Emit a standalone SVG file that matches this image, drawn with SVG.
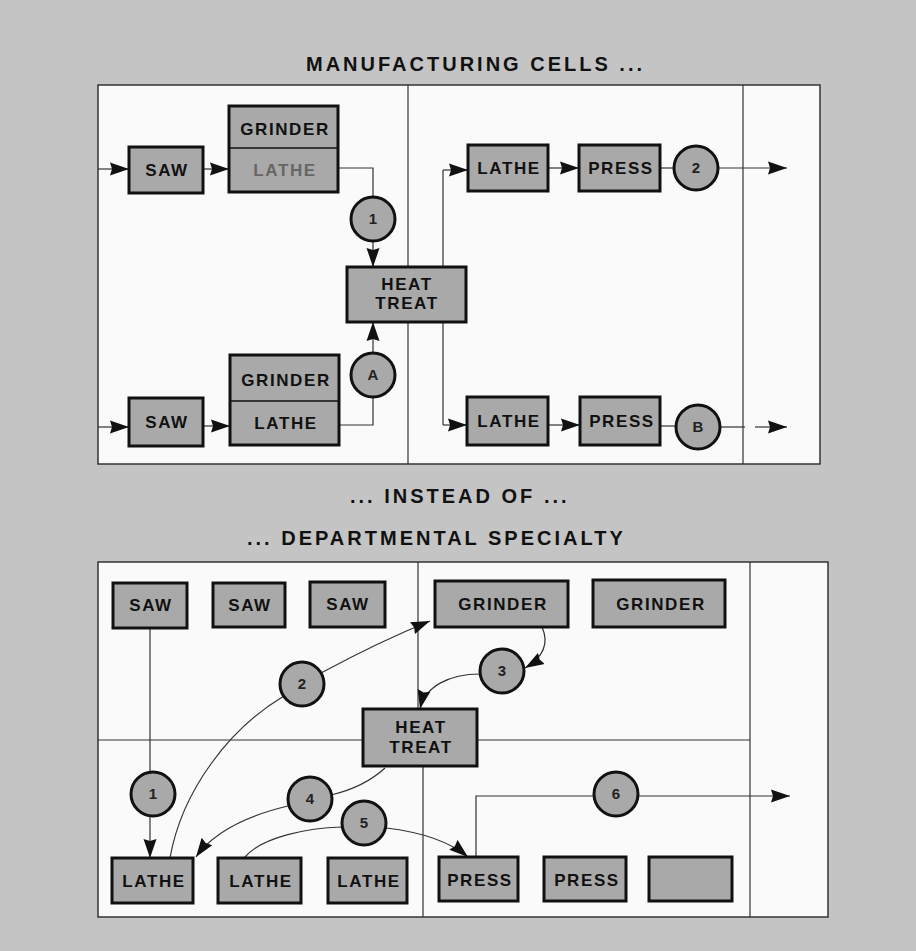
<svg xmlns="http://www.w3.org/2000/svg" width="916" height="951" viewBox="0 0 916 951">
<style>
.bx{fill:#a9a9a9;stroke:#111;stroke-width:3}
.cr{fill:#a9a9a9;stroke:#111;stroke-width:3}
.pn{fill:#fafafa;stroke:#333;stroke-width:1.5}
.dv{fill:none;stroke:#333;stroke-width:1.2}
.ln{fill:none;stroke:#333;stroke-width:1.2}
.t{font-family:"Liberation Sans",Arial,sans-serif;font-weight:bold;font-size:17px;letter-spacing:1.6px;fill:#111;text-anchor:middle}
.c{font-family:"Liberation Sans",Arial,sans-serif;font-weight:bold;font-size:15px;fill:#222;text-anchor:middle}
.h{font-family:"Liberation Sans",Arial,sans-serif;font-weight:bold;font-size:20px;letter-spacing:3px;fill:#111}
</style>
<defs>
<marker id="ah" markerUnits="userSpaceOnUse" markerWidth="20" markerHeight="14" refX="19" refY="7" orient="auto">
<path d="M0,0.5 L19,7 L0,13.5 L2,7 z" fill="#111"/>
</marker>
</defs>
<rect x="0" y="0" width="916" height="951" fill="#c4c4c4"/>

<g id="titles">
<text class="h" x="306" y="71">MANUFACTURING CELLS ...</text>
<text class="h" x="350" y="503">... INSTEAD OF ...</text>
<text class="h" x="247" y="545">... DEPARTMENTAL SPECIALTY</text>
</g>

<g id="panels">
<rect class="pn" x="98" y="85" width="722" height="379"/>
<line class="dv" x1="408" y1="85" x2="408" y2="464"/>
<line class="dv" x1="743" y1="85" x2="743" y2="464"/>
<rect class="pn" x="98" y="562" width="730" height="355"/>
<line class="dv" x1="418" y1="562" x2="418" y2="709"/>
<line class="dv" x1="423" y1="766" x2="423" y2="917"/>
<line class="dv" x1="98" y1="740" x2="363" y2="740"/>
<line class="dv" x1="477" y1="740" x2="750" y2="740"/>
<line class="dv" x1="750" y1="562" x2="750" y2="917"/>
</g>

<g id="connectors">
<line class="ln" x1="98" y1="169" x2="129" y2="169" marker-end="url(#ah)"/>
<line class="ln" x1="203" y1="169" x2="229" y2="169" marker-end="url(#ah)"/>
<polyline class="ln" points="338,168 373,168 373,197"/>
<line class="ln" x1="373" y1="241" x2="373" y2="267" marker-end="url(#ah)"/>
<line class="ln" x1="98" y1="427" x2="129" y2="427" marker-end="url(#ah)"/>
<line class="ln" x1="203" y1="426" x2="230" y2="426" marker-end="url(#ah)"/>
<polyline class="ln" points="339,425 373,425 373,397"/>
<line class="ln" x1="373" y1="353" x2="373" y2="322" marker-end="url(#ah)"/>
<line class="ln" x1="443" y1="170" x2="443" y2="425"/>
<line class="ln" x1="443" y1="170" x2="468" y2="170" marker-end="url(#ah)"/>
<line class="ln" x1="443" y1="425" x2="467" y2="425" marker-end="url(#ah)"/>
<line class="ln" x1="548" y1="168" x2="579" y2="168" marker-end="url(#ah)"/>
<line class="ln" x1="660" y1="168" x2="674" y2="168"/>
<line class="ln" x1="718" y1="168" x2="787" y2="168" marker-end="url(#ah)"/>
<line class="ln" x1="548" y1="425" x2="580" y2="425" marker-end="url(#ah)"/>
<line class="ln" x1="660" y1="426" x2="676" y2="426"/>
<line class="ln" x1="720" y1="427" x2="745" y2="427"/>
<line class="ln" x1="755" y1="427" x2="787" y2="427" marker-end="url(#ah)"/>
<line class="ln" x1="150" y1="628" x2="150" y2="772"/>
<line class="ln" x1="150" y1="816" x2="150" y2="858" marker-end="url(#ah)"/>
<path class="ln" d="M170,858 C182,790 230,728 284,696"/>
<path class="ln" d="M321,673 C360,652 398,634 430,621" marker-end="url(#ah)"/>
<path class="ln" d="M542,627 C550,645 542,658 525,668" marker-end="url(#ah)"/>
<path class="ln" d="M480,674 C450,674 425,686 420,709" marker-end="url(#ah)"/>
<path class="ln" d="M385,768 C372,780 352,790 331,795"/>
<path class="ln" d="M288,806 C250,815 215,830 196,857" marker-end="url(#ah)"/>
<path class="ln" d="M244,858 C262,836 310,828 342,827"/>
<path class="ln" d="M386,828 C420,832 450,842 468,857" marker-end="url(#ah)"/>
<polyline class="ln" points="476,857 476,796 594,796"/>
<line class="ln" x1="638" y1="796" x2="790" y2="796" marker-end="url(#ah)"/>
</g>

<g id="saw-top"><rect class="bx" x="129" y="147" width="74" height="46"/><text class="t" x="167" y="176">SAW</text></g>
<g id="grinder-lathe-top"><rect class="bx" x="229" y="106" width="109" height="86"/><line x1="229" y1="148" x2="338" y2="148" stroke="#111" stroke-width="1.5"/><text class="t" x="285" y="135">GRINDER</text><text class="t" x="285" y="176" style="fill:#666">LATHE</text></g>
<g id="circle-1-top"><circle class="cr" cx="373" cy="219" r="22"/><text class="c" x="373" y="224">1</text></g>
<g id="heat-treat-top"><rect class="bx" x="347" y="267" width="119" height="55"/><text class="t" x="407" y="290">HEAT</text><text class="t" x="407" y="309">TREAT</text></g>
<g id="circle-a"><circle class="cr" cx="373" cy="375" r="22"/><text class="c" x="373" y="380">A</text></g>
<g id="saw-bottom"><rect class="bx" x="129" y="398" width="74" height="48"/><text class="t" x="167" y="428">SAW</text></g>
<g id="grinder-lathe-bottom"><rect class="bx" x="230" y="355" width="109" height="90"/><line x1="230" y1="401" x2="339" y2="401" stroke="#111" stroke-width="1.5"/><text class="t" x="286" y="386">GRINDER</text><text class="t" x="286" y="429">LATHE</text></g>
<g id="lathe-top-right"><rect class="bx" x="468" y="145" width="80" height="46"/><text class="t" x="509" y="174">LATHE</text></g>
<g id="press-top-right"><rect class="bx" x="579" y="145" width="81" height="46"/><text class="t" x="621" y="174">PRESS</text></g>
<g id="circle-2-top"><circle class="cr" cx="696" cy="168" r="22"/><text class="c" x="696" y="173">2</text></g>
<g id="lathe-bottom-right"><rect class="bx" x="467" y="397" width="81" height="48"/><text class="t" x="509" y="427">LATHE</text></g>
<g id="press-bottom-right"><rect class="bx" x="580" y="397" width="80" height="48"/><text class="t" x="622" y="427">PRESS</text></g>
<g id="circle-b"><circle class="cr" cx="698" cy="427" r="22"/><text class="c" x="698" y="432">B</text></g>

<g id="saw-1"><rect class="bx" x="113" y="583" width="74" height="45"/><text class="t" x="151" y="611">SAW</text></g>
<g id="saw-2"><rect class="bx" x="213" y="583" width="72" height="44"/><text class="t" x="250" y="611">SAW</text></g>
<g id="saw-3"><rect class="bx" x="310" y="582" width="75" height="45"/><text class="t" x="348" y="610">SAW</text></g>
<g id="grinder-1"><rect class="bx" x="435" y="581" width="133" height="46"/><text class="t" x="503" y="610">GRINDER</text></g>
<g id="grinder-2"><rect class="bx" x="593" y="580" width="132" height="47"/><text class="t" x="661" y="610">GRINDER</text></g>
<g id="heat-treat"><rect class="bx" x="363" y="709" width="114" height="57"/><text class="t" x="421" y="733">HEAT</text><text class="t" x="421" y="753">TREAT</text></g>
<g id="circle-1"><circle class="cr" cx="153" cy="794" r="22"/><text class="c" x="153" y="799">1</text></g>
<g id="circle-2"><circle class="cr" cx="302" cy="684" r="22"/><text class="c" x="302" y="689">2</text></g>
<g id="circle-3"><circle class="cr" cx="502" cy="671" r="22"/><text class="c" x="502" y="676">3</text></g>
<g id="circle-4"><circle class="cr" cx="310" cy="799" r="22"/><text class="c" x="310" y="804">4</text></g>
<g id="circle-5"><circle class="cr" cx="364" cy="823" r="22"/><text class="c" x="364" y="828">5</text></g>
<g id="circle-6"><circle class="cr" cx="616" cy="794" r="22"/><text class="c" x="616" y="799">6</text></g>
<g id="lathe-1"><rect class="bx" x="112" y="858" width="81" height="45"/><text class="t" x="154" y="887">LATHE</text></g>
<g id="lathe-2"><rect class="bx" x="218" y="858" width="83" height="45"/><text class="t" x="261" y="887">LATHE</text></g>
<g id="lathe-3"><rect class="bx" x="328" y="858" width="79" height="45"/><text class="t" x="369" y="887">LATHE</text></g>
<g id="press-1"><rect class="bx" x="439" y="857" width="79" height="44"/><text class="t" x="480" y="886">PRESS</text></g>
<g id="press-2"><rect class="bx" x="544" y="857" width="82" height="44"/><text class="t" x="587" y="886">PRESS</text></g>
<g id="empty-box"><rect class="bx" x="649" y="857" width="83" height="44"/></g>
</svg>
